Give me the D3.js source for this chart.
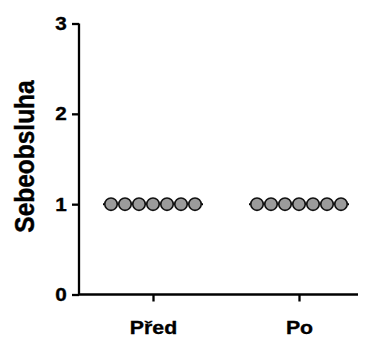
<!DOCTYPE html>
<html>
<head>
<meta charset="utf-8">
<script src="https://cdn.jsdelivr.net/npm/d3@7"></script>
<style>
  html, body { margin: 0; padding: 0; background: #fff; }
  svg text { font-family: "Liberation Sans", Arial, sans-serif; font-weight: bold; fill: #000; stroke: #000; stroke-width: 0.35px; }
</style>
</head>
<body>
<svg id="chart" width="365" height="338"></svg>
<script>
// Self-care score before and after, one point per subject
const groups = ["Před", "Po"];
const predValues = [1, 1, 1, 1, 1, 1, 1];
const poValues = [1, 1, 1, 1, 1, 1, 1];
const yTicks = [0, 1, 2, 3];
const yLabel = "Sebeobsluha";

const series = [predValues, poValues];

const svg = d3.select("#chart");
const x = d3.scalePoint().domain(groups).range([153, 299]);
const y = d3.scaleLinear().domain([0, 3]).range([294.5, 23.5]);

// Y axis
const yAxis = svg.append("g")
  .attr("transform", "translate(79,0)")
  .call(d3.axisLeft(y).tickValues(yTicks).tickFormat(d3.format("d")).tickSize(7).tickPadding(4));
yAxis.select(".domain").attr("stroke", "#000").attr("stroke-width", 2.3)
  .attr("d", `M0,${y(3)}V${y(0)}`);
yAxis.selectAll(".tick line").attr("stroke", "#000").attr("stroke-width", 2.3);
yAxis.selectAll(".tick text").style("font-size", "18.5px")
  .attr("transform", "scale(1.12,1)");

// X axis
const xAxis = svg.append("g")
  .attr("transform", `translate(0,${y(0)})`)
  .call(d3.axisBottom(x).tickSize(7).tickPadding(20));
xAxis.select(".domain").attr("stroke", "#000").attr("stroke-width", 2.3)
  .attr("d", "M78,0H358");
xAxis.selectAll(".tick line").attr("stroke", "#000").attr("stroke-width", 2.3);
xAxis.selectAll(".tick text").style("font-size", "18.5px")
  .attr("dy", null).attr("y", 39.5)
  .attr("transform", "scale(1.15,1)");

// Y axis title
svg.append("text")
  .attr("transform", `translate(34,156.5) rotate(-90) scale(1,1.16)`)
  .attr("text-anchor", "middle")
  .style("font-size", "24.5px")
  .text(yLabel);

// Scatter columns with mean line
const spread = 14;
series.forEach((vals, gi) => {
  const cx = x(groups[gi]);
  const mean = d3.mean(vals);
  const g = svg.append("g");
  g.append("line")
    .attr("x1", cx - 50).attr("x2", cx + 50)
    .attr("y1", y(mean)).attr("y2", y(mean))
    .attr("stroke", "#000").attr("stroke-width", 2);
  const n = vals.length;
  g.selectAll("circle").data(vals).join("circle")
    .attr("cx", (d, i) => cx + (i - (n - 1) / 2) * spread)
    .attr("cy", d => y(d))
    .attr("r", 6.2)
    .attr("fill", "#9b9b9b")
    .attr("stroke", "#111")
    .attr("stroke-width", 1.6);
});
</script>
</body>
</html>
